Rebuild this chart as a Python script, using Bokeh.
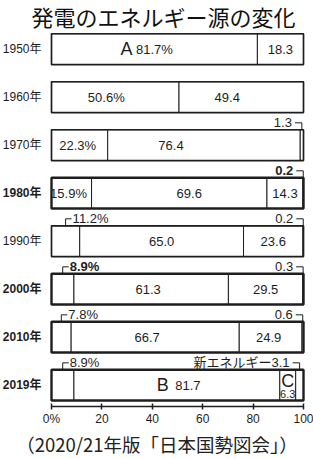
from bokeh.plotting import figure
from bokeh.models import Range1d, FixedTicker, ColumnDataSource
from bokeh.core.properties import value
from bokeh.embed import file_html
from bokeh.resources import INLINE

# ---------------- data ----------------
years = ["1950年", "1960年", "1970年", "1980年", "1990年", "2000年", "2010年", "2019年"]
hydro = [81.7, 50.6, 22.3, 15.9, 11.2, 8.9, 7.8, 8.9]
thermal = [18.3, 49.4, 76.4, 69.6, 65.0, 61.3, 66.7, 81.7]
nuclear = [0.0, 0.0, 1.3, 14.3, 23.6, 29.5, 24.9, 6.3]
new_energy = [0.0, 0.0, 0.0, 0.2, 0.2, 0.3, 0.6, 3.1]
x_ticks = [0, 20, 40, 60, 80, 100]
x_tick_labels = ["0%", "20", "40", "60", "80", "100"]
title_text = "発電のエネルギー源の変化"
source_text = "（2020/21年版「日本国勢図会」）"
new_energy_name = "新エネルギー"
letters = {(0, "hydro"): "A", (7, "thermal"): "B", (7, "nuclear"): "C"}
bold_rows = [3, 5, 6, 7]

# ---------------- layout ----------------
W, H = 313, 459
X0 = 51              # px from figure left to 0%
X100 = 303           # px from figure left to 100%
XS = (X100 - X0) / 100.0
YS = 48.36           # px per row
FRAME_H = 409
ROW0 = 49            # px from frame top to first row centre
BAR_H = 31 / YS

x_start = -X0 / XS
x_end = 100 + (W - X100) / XS
y_end = 7 + ROW0 / YS
y_start = y_end - FRAME_H / YS

NUM_FONT = "Liberation Sans, Noto Sans CJK JP"
JP_FONT = "Noto Sans CJK JP"
INK = "#1e1e1e"

p = figure(width=W, height=H, x_range=Range1d(x_start, x_end), y_range=Range1d(y_start, y_end),
           output_backend="svg", toolbar_location=None, title=None, y_axis_location=None,
           min_border_left=0, min_border_right=0, min_border_top=0, min_border_bottom=H - FRAME_H)
p.grid.visible = False
p.outline_line_color = None
p.background_fill_color = "white"
p.border_fill_color = "white"

series_names = ["hydro", "thermal", "nuclear", "new"]
rows = [7 - i for i in range(len(years))]

seg = dict(y=[], left=[], right=[])
segs = {}
for i, r in enumerate(rows):
    acc = 0.0
    for name, vals in zip(series_names, [hydro, thermal, nuclear, new_energy]):
        v = vals[i]
        if v > 0:
            seg["y"].append(r)
            seg["left"].append(acc)
            seg["right"].append(acc + v)
            segs[(i, name)] = (acc, acc + v, v)
        acc += v

p.hbar(y="y", left="left", right="right", height=BAR_H, source=ColumnDataSource(seg),
       fill_color="white", line_color=INK, line_width=1)
p.hbar(y=rows, left=0, right=100, height=BAR_H, fill_alpha=0, line_color=INK,
       line_width=[2.4 if i in bold_rows else 1.7 for i in range(len(rows))])

# year labels
p.text(x=[0] * len(rows), y=rows, text=years, x_offset=-10, text_align="right", text_baseline="middle",
       text_font=value(NUM_FONT), text_font_size="12px", text_color=INK,
       text_font_style=["bold" if i in bold_rows else "normal" for i in range(len(rows))])

# in-bar labels (px offsets)
inside = {(0, "hydro"): 0, (0, "thermal"): 0,
          (1, "hydro"): -9, (1, "thermal"): -14,
          (2, "hydro"): -2, (2, "thermal"): -33,
          (3, "hydro"): -3, (3, "thermal"): 10, (3, "nuclear"): 0,
          (4, "thermal"): 0, (4, "nuclear"): 0,
          (5, "thermal"): -3, (5, "nuclear"): 0,
          (6, "thermal"): -8, (6, "nuclear"): -2,
          (7, "thermal"): 11}
lab = dict(x=[], y=[], text=[], xo=[])
for (i, name), off in inside.items():
    a, b, v = segs[(i, name)]
    lab["x"].append((a + b) / 2)
    lab["y"].append(rows[i])
    lab["text"].append(f"{v}%" if name == "hydro" else f"{v}")
    lab["xo"].append(off)
p.text(x="x", y="y", text="text", x_offset="xo", source=ColumnDataSource(lab),
       text_align="center", text_baseline="middle", text_font=value(NUM_FONT),
       text_font_size="13px", text_color=INK)

# letters
let_off = {(0, "hydro"): (-28, 0), (7, "thermal"): (-14, 0), (7, "nuclear"): (0, -4)}
for key, t in letters.items():
    a, b, v = segs[key]
    dx, dy = let_off[key]
    p.text(x=[(a + b) / 2], y=[rows[key[0]]], text=[t], x_offset=dx, y_offset=dy,
           text_align="center", text_baseline="middle", text_font=value("Liberation Sans"),
           text_font_size="18px", text_color=INK)
a, b, v = segs[(7, "nuclear")]
p.text(x=[(a + b) / 2], y=[rows[7]], text=[f"{v}"], y_offset=9, text_align="center",
       text_baseline="middle", text_font=value(NUM_FONT), text_font_size="11px", text_color=INK)

# call-outs
right_calls = [(2, "nuclear"), (3, "new"), (4, "new"), (5, "new"), (6, "new"), (7, "new")]
left_calls = [(4, "hydro"), (5, "hydro"), (6, "hydro"), (7, "hydro")]
bold_calls = [(3, "new"), (5, "hydro")]
lx, ly = [], []
for key in right_calls + left_calls:
    i, name = key
    a, b, v = segs[key]
    xc = (a + b) / 2
    yt = rows[i] + BAR_H / 2
    yh = yt + 7 / YS
    if key in right_calls:
        lx.append([xc - 7 / XS, xc, xc])
        txt = (new_energy_name if name == "new" and i == 7 else "") + f"{v}"
        tx, align = xc - 10 / XS, "right"
    else:
        lx.append([xc + 6 / XS, xc, xc])
        txt = f"{v}%"
        tx, align = xc + 7 / XS, "left"
    ly.append([yh, yh, yt])
    p.text(x=[tx], y=[yh], text=[txt], text_align=align, text_baseline="middle",
           text_font=value(NUM_FONT), text_font_size="13px", text_color=INK,
           text_font_style="bold" if key in bold_calls else "normal")
p.multi_line(xs=lx, ys=ly, line_color=INK, line_width=1)

# title
p.text(x=[(163 - X0) / XS], y=[y_end - 16 / YS], text=[title_text], text_align="center",
       text_baseline="middle", text_font=value(JP_FONT), text_font_size="22px", text_color="#111")

# axis (source caption as its label)
ax = p.xaxis[0]
ax.ticker = FixedTicker(ticks=x_ticks)
ax.major_label_overrides = {t: s for t, s in zip(x_ticks, x_tick_labels)}
ax.bounds = (0, 100)
ax.axis_line_width = 1.5
ax.axis_line_color = INK
ax.major_tick_line_color = INK
ax.major_tick_line_width = 1.5
ax.major_tick_in = 3
ax.major_tick_out = 3
ax.minor_tick_line_color = None
ax.major_label_standoff = 2
ax.major_label_text_font = NUM_FONT
ax.major_label_text_font_size = "12px"
ax.major_label_text_color = INK
ax.axis_label = source_text
ax.axis_label_standoff = 2
ax.axis_label_text_font = JP_FONT
ax.axis_label_text_font_size = "18.5px"
ax.axis_label_text_font_style = "normal"
ax.axis_label_text_color = "#222"

open("out.html", "w").write(file_html(p, INLINE))
